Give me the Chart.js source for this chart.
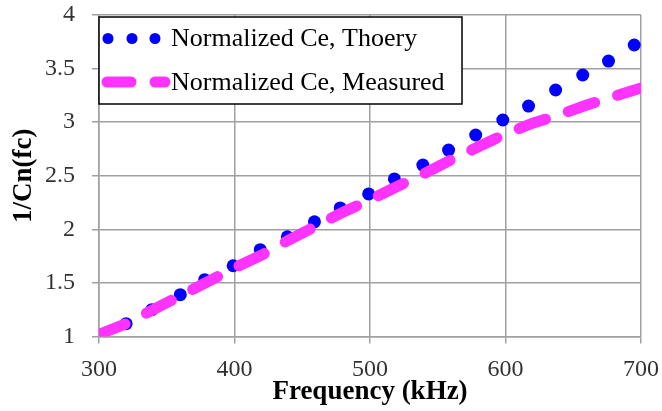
<!DOCTYPE html>
<html>
<head>
<meta charset="utf-8">
<script src="https://cdn.jsdelivr.net/npm/chart.js@4.4.1/dist/chart.umd.min.js"></script>
<style>
  html, body { margin: 0; padding: 0; background: #fff; }
  #wrap { width: 662px; height: 411px; position: relative; }
</style>
</head>
<body>
<div id="wrap"><canvas id="c"></canvas></div>
<script>
// Normalized Ce vs frequency: theory (dots) and measured (dashed line)
var freqTheory = [320, 339, 360, 378, 399, 419, 439, 459, 478, 499, 518, 539, 558, 578, 598, 617, 637, 657, 676, 695];
var ceTheory = [1.12, 1.25, 1.39, 1.53, 1.66, 1.81, 1.93, 2.07, 2.20, 2.33, 2.47, 2.60, 2.74, 2.88, 3.02, 3.15, 3.30, 3.44, 3.57, 3.72];
var freqMeasured = [300, 320, 340, 360, 380, 400, 420, 440, 460, 480, 500, 520, 540, 560, 580, 600, 620, 640, 660, 680, 700];
var ceMeasured = [1.02, 1.12, 1.25, 1.38, 1.51, 1.64, 1.76, 1.90, 2.03, 2.16, 2.275, 2.40, 2.52, 2.65, 2.77, 2.89, 2.99, 3.07, 3.16, 3.24, 3.32];
var seriesLabels = ['Normalized Ce, Thoery', 'Normalized Ce, Measured'];
var xTicks = [300, 400, 500, 600, 700];
var yTicks = [1, 1.5, 2, 2.5, 3, 3.5, 4];

var BLUE = '#0000ff', PINK = '#ff33ff', GRID = '#a0a0a0';
var SERIF = '"Liberation Serif", "Times New Roman", serif';

function pts(xs, ys) {
  return xs.map(function (x, i) { return { x: x, y: ys[i] }; });
}

// legend drawn inside the plot, top-left, like the original
var legendBox = {
  id: 'legendBox',
  afterDraw: function (chart) {
    var ctx = chart.ctx, a = chart.chartArea;
    var x0 = a.left, y0 = 17, w = 363, h = 87;
    ctx.save();
    ctx.fillStyle = '#fff';
    ctx.fillRect(x0, y0, w, h);
    ctx.strokeStyle = '#000';
    ctx.lineWidth = 1.5;
    ctx.strokeRect(x0, y0, w, h);

    var r1 = y0 + 21.5, r2 = y0 + 65;
    // dots sample
    ctx.fillStyle = BLUE;
    [108, 132, 155].forEach(function (cx) {
      ctx.beginPath();
      ctx.arc(cx, r1, 5.5, 0, Math.PI * 2);
      ctx.fill();
    });
    // dashed sample
    ctx.strokeStyle = PINK;
    ctx.lineWidth = 11;
    ctx.lineCap = 'round';
    ctx.beginPath(); ctx.moveTo(107, r2); ctx.lineTo(131, r2); ctx.stroke();
    ctx.beginPath(); ctx.moveTo(155, r2); ctx.lineTo(165, r2); ctx.stroke();

    ctx.fillStyle = '#000';
    ctx.font = '26px ' + SERIF;
    ctx.textBaseline = 'middle';
    ctx.fillText(seriesLabels[0], 171, r1 + 1);
    ctx.fillText(seriesLabels[1], 171, r2 + 1);
    ctx.restore();
  }
};

new Chart(document.getElementById('c'), {
  type: 'scatter',
  data: {
    datasets: [
      {
        label: seriesLabels[0],
        data: pts(freqTheory, ceTheory),
        pointRadius: 6.5,
        pointHoverRadius: 6.5,
        pointBackgroundColor: BLUE,
        pointBorderWidth: 0,
        showLine: false,
        order: 2
      },
      {
        label: seriesLabels[1],
        data: pts(freqMeasured, ceMeasured),
        showLine: true,
        pointRadius: 0,
        borderColor: PINK,
        borderWidth: 11,
        borderDash: [28, 24],
        borderCapStyle: 'round',
        tension: 0,
        order: 1
      }
    ]
  },
  options: {
    responsive: true,
    maintainAspectRatio: false,
    animation: false,
    layout: { padding: { top: 15, right: 21, left: 0, bottom: 0 } },
    plugins: { legend: { display: false }, tooltip: { enabled: false } },
    scales: {
      x: {
        type: 'linear',
        min: 300, max: 700,
        afterFit: function (s) { s.height = 74.5; s.paddingLeft = 0; s.paddingRight = 0; },
        afterBuildTicks: function (s) { s.ticks = xTicks.map(function (v) { return { value: v }; }); },
        grid: { color: GRID, lineWidth: 1.5, tickLength: 7, tickColor: GRID },
        border: { color: GRID, width: 1.5 },
        ticks: { color: '#333', font: { family: SERIF, size: 24 }, padding: 12, maxRotation: 0 },
        title: { display: true, text: 'Frequency (kHz)', color: '#000',
          font: { family: SERIF, size: 27, weight: 'bold' }, padding: { top: 0, bottom: 3 } }
      },
      y: {
        type: 'linear',
        min: 1, max: 4,
        afterFit: function (s) { s.width = 99; s.paddingTop = 0; s.paddingBottom = 0; },
        afterBuildTicks: function (s) { s.ticks = yTicks.map(function (v) { return { value: v }; }); },
        grid: { color: GRID, lineWidth: 1.5, tickLength: 7, tickColor: GRID },
        border: { color: GRID, width: 1.5 },
        ticks: { color: '#333', font: { family: SERIF, size: 24 }, padding: 17,
          callback: function (v) { return String(v); } },
        title: { display: true, text: '1/Cn(fc)', color: '#000',
          font: { family: SERIF, size: 27, weight: 'bold' }, padding: { top: 8, bottom: 0 } }
      }
    }
  },
  plugins: [legendBox]
});
</script>
</body>
</html>
